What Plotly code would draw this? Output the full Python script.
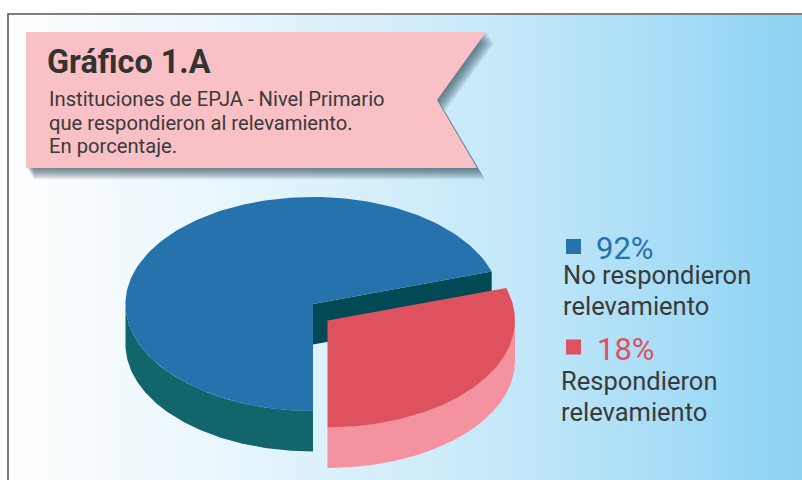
import numpy as np
import plotly.graph_objects as go

# --- data ---
categories = ["No respondieron relevamiento", "Respondieron relevamiento"]
label_values = [92, 18]            # percentages as printed in the legend
drawn_shares = [70.1, 29.9]        # slice sizes as drawn in the pie
title_text = "Gráfico 1.A"
subtitle_lines = ["Instituciones de EPJA - Nivel Primario",
                  "que respondieron al relevamiento.",
                  "En porcentaje."]
legend_lines = [["No respondieron", "relevamiento"], ["Respondieron", "relevamiento"]]

# --- styles and geometry ---
W, H = 802, 480
BLUE, TEAL, DARK = "#2672ad", "#13656c", "#014a55"
RED, PINK = "#de525f", "#f5929f"
RIBBON, INK = "#f9c0c5", "#3a3a3a"
FONT = "Roboto"
CX, CY, RX, RY, DEPTH = 313, 304, 187.5, 107, 40.5
EXPLODE = (14.5, 16.5)
RIBBON_POLY = [(26, 32), (486, 32), (437, 100), (477, 168), (26, 168)]

fig = go.Figure()


def poly(xs, ys, color):
    fig.add_trace(go.Scatter(x=list(xs), y=list(ys), mode="lines", fill="toself",
                             fillcolor=color, line=dict(width=0), hoverinfo="skip",
                             showlegend=False))


def arc(cx, cy, a0, a1, n=160):
    t = np.radians(np.linspace(a0, a1, n))
    return cx + RX * np.cos(t), cy - RY * np.sin(t)


def side_wall(cx, cy, a0, a1, color):
    x, y = arc(cx, cy, a0, a1)
    poly(np.r_[x, x[::-1]], np.r_[y, (y + DEPTH)[::-1]], color)


# background panel with the left-to-right gradient
fig.add_trace(go.Scatter(
    x=[9, W, W, 9, 9], y=[15, 15, H, H, 15], mode="lines", fill="toself",
    line=dict(width=0), hoverinfo="skip", showlegend=False,
    fillgradient=dict(type="horizontal", colorscale=[
        [0.0, "#ffffff"], [0.3, "#e6f5fc"], [0.63, "#c4e8f9"], [0.85, "#a4dcf6"], [1.0, "#8cd3f3"]]),
))
fig.add_trace(go.Scatter(x=[8, 8, W], y=[H, 14, 14], mode="lines",
                         line=dict(color="#555555", width=1.6), hoverinfo="skip", showlegend=False))

# ribbon with a soft layered shadow
rx = np.array([p[0] for p in RIBBON_POLY] + [RIBBON_POLY[0][0]], float)
ry = np.array([p[1] for p in RIBBON_POLY] + [RIBBON_POLY[0][1]], float)
for d in np.arange(13, 1, -1.0):
    poly(rx + d * 0.62, ry + d * 0.95 - 1, "rgba(45,65,80,0.075)")
poly(rx, ry, RIBBON)

# pie built from the drawn shares
boundary = 270 + drawn_shares[1] * 3.6 - 360   # where the red slice ends
bx, by = arc(CX, CY, boundary, 270)
side_wall(CX, CY, 180, 270, TEAL)
ex, ey = arc(CX, CY, boundary, boundary, 1)
poly([CX, ex[0], ex[0], CX], [CY, ey[0], ey[0] + DEPTH, CY + DEPTH], DARK)
poly(np.r_[CX, bx], np.r_[CY, by], BLUE)
sx, sy = arc(CX, CY, 233, 233, 1)
fig.add_trace(go.Scatter(x=[CX, sx[0]], y=[CY, sy[0]], mode="lines",
                         line=dict(color="rgba(30,90,150,0.25)", width=0.7),
                         hoverinfo="skip", showlegend=False))

RCX, RCY = CX + EXPLODE[0], CY + EXPLODE[1]
side_wall(RCX, RCY, 270, 360, PINK)
rax, ray = arc(RCX, RCY, -90, boundary)
poly(np.r_[RCX, rax], np.r_[RCY, ray], RED)

# legend squares
fig.add_trace(go.Scatter(x=[573.5, 573.5], y=[246.5, 347], mode="markers", hoverinfo="skip",
                         showlegend=False,
                         marker=dict(symbol="square", size=15, color=[BLUE, RED], line=dict(width=0))))


def text(x, y, s, size, color=INK, bold=False):
    fig.add_annotation(x=x, y=y, text=f"<b>{s}</b>" if bold else s, showarrow=False,
                       xref="x", yref="y", xanchor="left", yanchor="middle", align="left",
                       font=dict(family=FONT, size=size, color=color),
                       borderpad=0, borderwidth=0)


text(47, 62, title_text, 32.4, "#333333", True)
for y, s in zip([99, 122.5, 146], subtitle_lines):
    text(49, y, s, 20 * 0.99 + 0.4)
text(596, 248.5, f"{label_values[0]}%", 31, BLUE)
text(597, 349.5, f"{label_values[1]}%", 31, RED)
for y, s in zip([275, 306], legend_lines[0]):
    text(563, y, s, 25.5)
for y, s in zip([381, 412], legend_lines[1]):
    text(561, y, s, 25.5)

fig.update_layout(
    width=W, height=H, autosize=False, margin=dict(l=0, r=0, t=0, b=0, pad=0),
    paper_bgcolor="#ffffff", plot_bgcolor="#ffffff", showlegend=False,
    xaxis=dict(range=[0, W], visible=False, fixedrange=True),
    yaxis=dict(range=[H, 0], visible=False, fixedrange=True),
)
fig.write_html("out.html", config={"displayModeBar": False},
               post_script="document.body.style.margin='0';document.body.style.overflow='hidden';")
